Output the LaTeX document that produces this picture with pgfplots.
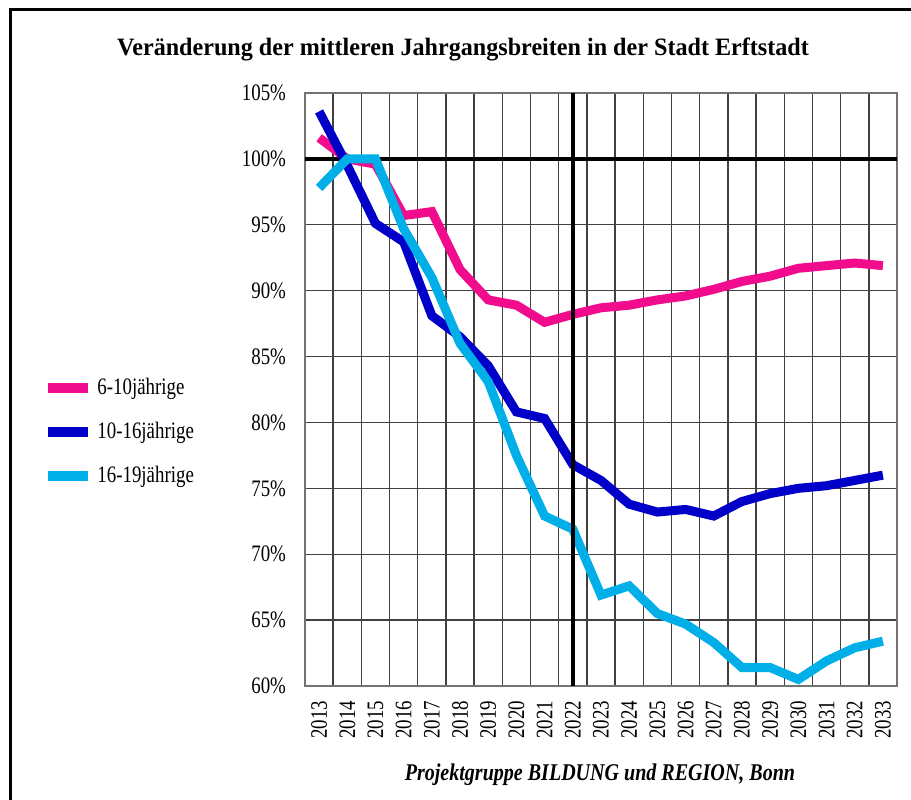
\documentclass[border=0pt]{standalone}
\usepackage{fontspec}
\setmainfont{Liberation Serif}[FakeStretch=0.8]
\newfontfamily\titlefont{Liberation Serif}[FakeStretch=0.965]
\newfontfamily\footfont{Liberation Serif}[FakeStretch=0.835]
\usepackage{pgfplots}
\pgfplotsset{compat=1.18}
\definecolor{cpink}{RGB}{240,12,140}
\definecolor{cblue}{RGB}{0,0,200}
\definecolor{ccyan}{RGB}{0,174,232}
\begin{document}
\begin{tikzpicture}
\path[use as bounding box] (0,0) rectangle (455.5pt,399.5pt);
\draw[line width=1.5pt] (5pt,-5pt) -- (5pt,394.75pt) -- (470pt,394.75pt);
\node[anchor=base, inner sep=0pt, font=\titlefont\fontsize{12.5}{14}\bfseries\selectfont] at (231.5pt,371.5pt) {Veränderung der mittleren Jahrgangsbreiten in der Stadt Erftstadt};
\node[anchor=base, inner sep=0pt, font=\footfont\fontsize{12}{14}\bfseries\itshape\selectfont] at (300pt,9.5pt) {Projektgruppe BILDUNG und REGION, Bonn};
\begin{axis}[at={(152.5pt,56.5pt)}, anchor=south west, scale only axis,
  width=296pt, height=296.5pt,
  xmin=-0.5, xmax=20.5, ymin=60, ymax=105,
  xtick={0,...,20},
  xticklabels={2013,2014,2015,2016,2017,2018,2019,2020,2021,2022,2023,2024,2025,2026,2027,2028,2029,2030,2031,2032,2033},
  minor xtick={0.5,1.5,...,19.5}, xminorgrids,
  ytick={60,65,...,105}, ymajorgrids,
  yticklabel={\pgfmathprintnumber{\tick}\%},
  /pgf/number format/assume math mode=true,
  major tick length=0pt, minor tick length=0pt,
  grid style={black!75, line width=0.7pt},
  minor grid style={black!75, line width=0.7pt},
  extra y ticks={100}, extra y tick labels={},
  extra y tick style={grid style={black, line width=2.2pt}},
  axis line style={black!55, line width=0.8pt},
  tick label style={font=\fontsize{11.8}{13}\selectfont},
  xticklabel style={rotate=90, anchor=east, xshift=-4pt},
  yticklabel style={xshift=-6pt},
  legend style={draw=none, fill=none, at={(axis description cs:-0.4425,0.4283)}, anchor=west,
    inner sep=0pt, row sep=8.3pt, font=\fontsize{11.8}{13}\selectfont, cells={anchor=west}},
  legend image code/.code={\draw[#1, line width=5pt] (0pt,0pt) -- (20pt,0pt);},
]
\addplot[cpink, line width=4.5pt] coordinates {
(0,101.6) (1,100.0) (2,99.6) (3,95.7) (4,96.0) (5,91.6) (6,89.3) (7,88.9) (8,87.6) (9,88.2)
(10,88.7) (11,88.9) (12,89.3) (13,89.6) (14,90.1) (15,90.7) (16,91.1) (17,91.7) (18,91.9) (19,92.1) (20,91.9)};
\addlegendentry{6-10jährige}
\addplot[cblue, line width=4.5pt] coordinates {
(0,103.6) (1,99.5) (2,95.1) (3,93.7) (4,88.1) (5,86.5) (6,84.3) (7,80.8) (8,80.3) (9,76.8)
(10,75.6) (11,73.8) (12,73.2) (13,73.4) (14,72.9) (15,74.0) (16,74.6) (17,75.0) (18,75.2) (19,75.6) (20,76.0)};
\addlegendentry{10-16jährige}
\addplot[ccyan, line width=4.5pt] coordinates {
(0,97.8) (1,100.0) (2,100.0) (3,94.7) (4,91.0) (5,86.0) (6,83.1) (7,77.5) (8,72.9) (9,71.9)
(10,66.9) (11,67.6) (12,65.5) (13,64.7) (14,63.3) (15,61.4) (16,61.4) (17,60.5) (18,61.9) (19,62.9) (20,63.4)};
\addlegendentry{16-19jährige}
\addplot[black, line width=2.2pt, forget plot] coordinates {(9,60) (9,105)};
\end{axis}
\end{tikzpicture}
\end{document}
